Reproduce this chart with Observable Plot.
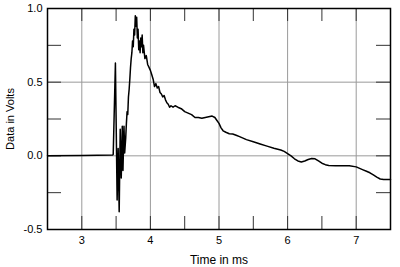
<!DOCTYPE html>
<html>
<head>
<meta charset="utf-8">
<script src="https://cdn.jsdelivr.net/npm/d3@7"></script>
<script src="https://cdn.jsdelivr.net/npm/@observablehq/plot@0.6"></script>
<style>
  html, body { margin: 0; padding: 0; background: #fff; }
  #chart svg { display: block; }
</style>
</head>
<body>
<div id="chart"></div>
<script>
// Impulse response: time in ms, data in volts
const timeMs = [2.5, 3.0, 3.45, 3.458, 3.49, 3.515, 3.53, 3.545, 3.56, 3.575, 3.59, 3.60, 3.615, 3.625, 3.64, 3.65, 3.66, 3.67, 3.68, 3.69, 3.70, 3.71, 3.72, 3.73, 3.74, 3.75, 3.76, 3.77, 3.78, 3.79, 3.80, 3.81, 3.82, 3.83, 3.84, 3.85, 3.86, 3.87, 3.88, 3.89, 3.90, 3.92, 3.94, 3.96, 3.98, 4.00, 4.02, 4.04, 4.06, 4.08, 4.10, 4.12, 4.14, 4.16, 4.18, 4.20, 4.22, 4.24, 4.26, 4.28, 4.30, 4.33, 4.36, 4.40, 4.45, 4.50, 4.55, 4.60, 4.65, 4.70, 4.75, 4.80, 4.85, 4.90, 4.94, 4.97, 5.00, 5.03, 5.06, 5.10, 5.15, 5.20, 5.25, 5.30, 5.40, 5.50, 5.60, 5.70, 5.80, 5.90, 5.95, 6.00, 6.05, 6.10, 6.15, 6.20, 6.25, 6.30, 6.35, 6.40, 6.45, 6.50, 6.55, 6.60, 6.70, 6.80, 6.90, 7.00, 7.05, 7.10, 7.15, 7.20, 7.25, 7.30, 7.35, 7.40, 7.45, 7.50];
const volts = [0.0, 0.002, 0.005, 0.01, 0.63, -0.30, 0.05, -0.38, 0.18, -0.15, 0.20, -0.10, 0.20, 0.02, 0.12, 0.22, 0.30, 0.28, 0.40, 0.45, 0.52, 0.60, 0.66, 0.70, 0.78, 0.74, 0.86, 0.82, 0.95, 0.88, 0.94, 0.80, 0.86, 0.72, 0.78, 0.70, 0.80, 0.74, 0.82, 0.70, 0.75, 0.66, 0.68, 0.62, 0.60, 0.58, 0.55, 0.52, 0.47, 0.49, 0.46, 0.47, 0.43, 0.42, 0.40, 0.41, 0.38, 0.36, 0.35, 0.33, 0.34, 0.33, 0.34, 0.33, 0.32, 0.30, 0.29, 0.28, 0.26, 0.26, 0.255, 0.26, 0.265, 0.27, 0.26, 0.24, 0.22, 0.19, 0.17, 0.16, 0.15, 0.148, 0.14, 0.13, 0.11, 0.095, 0.08, 0.066, 0.052, 0.04, 0.03, 0.015, 0.0, -0.02, -0.035, -0.042, -0.035, -0.025, -0.018, -0.02, -0.035, -0.05, -0.06, -0.065, -0.068, -0.068, -0.068, -0.075, -0.085, -0.095, -0.105, -0.115, -0.13, -0.145, -0.157, -0.16, -0.16, -0.16];

const xDomain = [2.5, 7.5];
const yDomain = [-0.5, 1.0];
const xLabelTicks = [3, 4, 5, 6, 7];
const xMinorTicks = [3, 3.5, 4, 4.5, 5, 5.5, 6, 6.5, 7];
const yLabelTicks = [-0.5, 0.0, 0.5, 1.0];
const yMinorTicks = [-0.25, 0, 0.25, 0.5, 0.75];
const xGrid = [3, 4, 5, 6, 7];
const yGrid = [0, 0.5];

const data = timeMs.map((t, i) => ({t, v: volts[i]}));

const W = 400, H = 267;
const mL = 47, mR = 10, mT = 8, mB = 38;
const innerW = W - mL - mR, innerH = H - mT - mB;
const tickLen = 13;

const chart = Plot.plot({
  width: W,
  height: H,
  marginLeft: mL,
  marginRight: mR,
  marginTop: mT,
  marginBottom: mB,
  style: {fontFamily: "'Liberation Sans', Arial, Helvetica, sans-serif", fontSize: "11px", color: "#000", background: "#fff"},
  x: {domain: xDomain},
  y: {domain: yDomain},
  marks: [
    Plot.ruleX(xGrid, {stroke: "#9a9a9a", strokeWidth: 1}),
    Plot.ruleY(yGrid, {stroke: "#9a9a9a", strokeWidth: 1}),
    // inward tick marks
    Plot.ruleX(xMinorTicks, {stroke: "#333", strokeWidth: 1, insetBottom: innerH - tickLen}),
    Plot.ruleX(xMinorTicks, {stroke: "#333", strokeWidth: 1, insetTop: innerH - tickLen}),
    Plot.ruleY(yMinorTicks, {stroke: "#333", strokeWidth: 1, insetRight: innerW - tickLen - 1}),
    Plot.ruleY(yMinorTicks, {stroke: "#333", strokeWidth: 1, insetLeft: innerW - tickLen - 1}),
    Plot.axisX({ticks: xLabelTicks, tickSize: 0, tickPadding: 7, tickFormat: d => String(d), label: null}),
    Plot.axisX({ticks: [], tickSize: 0, label: "Time in ms", labelAnchor: "center", labelOffset: 34,
      labelArrow: "none", fontSize: 12, dx: 3}),
    Plot.axisY({ticks: yLabelTicks, tickSize: 0, tickPadding: 5, tickFormat: d => d.toFixed(1),
      label: "Data in Volts", labelAnchor: "center", labelOffset: 41, labelArrow: "none"}),
    Plot.line(data, {x: "t", y: "v", stroke: "#000", strokeWidth: 1.5, curve: "linear"}),
    Plot.frame({stroke: "#000", strokeWidth: 1.5})
  ]
});
document.getElementById("chart").appendChild(chart);
</script>
</body>
</html>
